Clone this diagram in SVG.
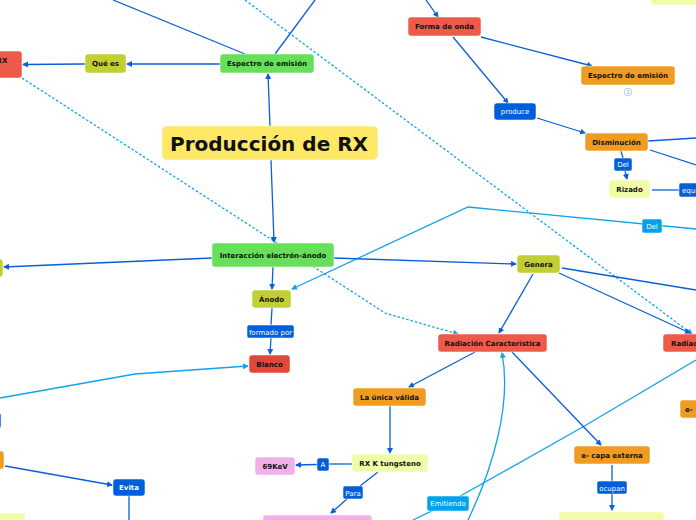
<svg xmlns="http://www.w3.org/2000/svg" width="696" height="520" viewBox="0 0 696 520">
<defs>
<marker id="a" markerWidth="6" markerHeight="6" refX="5" refY="3" orient="auto" markerUnits="userSpaceOnUse"><path d="M0,0 L6,3 L0,6 z" fill="#0A5FD8"/></marker>
<marker id="b" markerWidth="6" markerHeight="6" refX="5" refY="3" orient="auto" markerUnits="userSpaceOnUse"><path d="M0,0 L6,3 L0,6 z" fill="#12A2EA"/></marker>
<style>
text{font-family:"DejaVu Sans","Liberation Sans",sans-serif;font-size:7px;font-weight:bold;text-anchor:middle;fill:#111}
.n rect{stroke:#ffffff;stroke-opacity:0.5;stroke-width:1}
.l text{font-weight:normal;fill:#fff}
.t{font-size:20px}
.s{text-anchor:start}
.dk{fill:none;stroke:#0A5FD8;stroke-width:1.3}
.lt{fill:none;stroke:#12A2EA;stroke-width:1.3}
.ds{fill:none;stroke:#12A2EA;stroke-width:1.3;stroke-dasharray:2.5 2}
.y{fill:#FFE866}.g{fill:#66E05A}.yg{fill:#C1CF32}.r{fill:#EE5A4A}.rd{fill:#E0483A}.o{fill:#F09B22}.ly{fill:#F0FCA8}.p{fill:#F2B0E8}.bl{fill:#005EDB}.lb{fill:#00A2EA}
</style>
</defs>
<rect width="696" height="520" fill="#fff"/>
<g id="connectors">
<path class="ds" d="M22,78 L385,313 L458,334" marker-end="url(#b)"/>
<path class="ds" d="M245,0 L692,334" marker-end="url(#b)"/>
<path class="dk" d="M270,126 L268,74" marker-end="url(#a)"/>
<path class="dk" d="M271,160 L274,242" marker-end="url(#a)"/>
<path class="dk" d="M220,64 L127,64" marker-end="url(#a)"/>
<path class="dk" d="M85,64 L23,64.5" marker-end="url(#a)"/>
<path class="dk" d="M245,54 L113,0"/>
<path class="dk" d="M275,54 L315,0"/>
<path class="dk" d="M426,0 L438,17" marker-end="url(#a)"/>
<path class="dk" d="M481,37 L592,66" marker-end="url(#a)"/>
<path class="dk" d="M453,37 L508,103" marker-end="url(#a)"/>
<path class="dk" d="M537,118 L585,133" marker-end="url(#a)"/>
<path class="dk" d="M648,141 L696,138"/>
<path class="dk" d="M650,150 L696,165"/>
<path class="dk" d="M621,151 L623,158"/>
<path class="dk" d="M625,171 L627,179" marker-end="url(#a)"/>
<path class="dk" d="M652,190 L679,190"/>
<path class="lt" d="M696,229 L468,207 L292,289" marker-end="url(#b)"/>
<path class="dk" d="M212,258 L4,267" marker-end="url(#a)"/>
<path class="dk" d="M273,267 L272,289" marker-end="url(#a)"/>
<path class="dk" d="M334,258 L516,264" marker-end="url(#a)"/>
<path class="dk" d="M272,308 L271,325"/>
<path class="dk" d="M271,338 L270,354" marker-end="url(#a)"/>
<path class="dk" d="M533,274 L499,333" marker-end="url(#a)"/>
<path class="dk" d="M559,273 L690,333" marker-end="url(#a)"/>
<path class="dk" d="M562,268 L696,290"/>
<path class="lt" d="M696,360 L581,428 L448,503 L413,520"/>
<path class="lt" d="M468,520 C492,470 512,405 502,353" marker-end="url(#b)"/>
<path class="dk" d="M475,352 L409,387" marker-end="url(#a)"/>
<path class="dk" d="M512,352 L601,445" marker-end="url(#a)"/>
<path class="dk" d="M390,406 L390,453" marker-end="url(#a)"/>
<path class="dk" d="M352,464 L329,464"/>
<path class="dk" d="M317,464.5 L296,465" marker-end="url(#a)"/>
<path class="dk" d="M378,472 L360,486"/>
<path class="dk" d="M347,499 L331,513" marker-end="url(#a)"/>
<path class="dk" d="M612,465 L612,481"/>
<path class="dk" d="M612,494 L612,510" marker-end="url(#a)"/>
<path class="lt" d="M0,398 L135,374 L248,366" marker-end="url(#b)"/>
<path class="dk" d="M5,466 L112,485" marker-end="url(#a)"/>
<path class="dk" d="M129,496 L129,520"/>
</g>
<g id="n-title" class="n"><rect class="y" x="162" y="126" width="216" height="34" rx="5"/><text class="t" x="269" y="151">Producción de RX</text></g>
<g id="n-espectro1" class="n"><rect class="g" x="220" y="54" width="94" height="19" rx="3"/><text x="267" y="66">Espectro de emisión</text></g>
<g id="n-quees" class="n"><rect class="yg" x="85" y="54" width="41" height="19" rx="3"/><text x="105.5" y="66">Qué es</text></g>
<g id="n-rx" class="n"><rect class="r" x="-12" y="51" width="34" height="27" rx="3"/><text x="2" y="63">RX</text></g>
<g id="n-forma" class="n"><rect class="r" x="408" y="17" width="73" height="19" rx="3"/><text x="444.5" y="29">Forma de onda</text></g>
<g id="n-espectro2" class="n"><rect class="o" x="581" y="66" width="94" height="19" rx="3"/><text x="628" y="78">Espectro de emisión</text><circle cx="628" cy="92" r="3.8" fill="#fff" stroke="#9CC2F2" stroke-width="0.8"/><text x="628" y="94" style="font-size:5px;font-weight:normal;fill:#7FAEEA">2</text></g>
<g id="n-produce" class="n l"><rect class="bl" x="494" y="103" width="42" height="17" rx="3"/><text x="515" y="114">produce</text></g>
<g id="n-dismin" class="n"><rect class="o" x="585" y="133" width="63" height="18" rx="3"/><text x="616.5" y="145">Disminución</text></g>
<g id="n-del1" class="n l"><rect class="bl" x="614" y="158" width="18" height="13" rx="2"/><text x="623" y="167">Del</text></g>
<g id="n-rizado" class="n"><rect class="ly" x="609" y="180" width="41" height="18" rx="3"/><text x="629.5" y="192">Rizado</text></g>
<g id="n-equi" class="n l"><rect class="bl" x="679" y="183" width="30" height="14" rx="2"/><text class="s" x="682" y="193">equi</text></g>
<g id="n-del2" class="n l"><rect class="lb" x="642" y="219" width="20" height="14" rx="2"/><text x="652" y="229">Del</text></g>
<g id="n-topright" class="n"><rect class="ly" x="651" y="-10" width="60" height="15" rx="3"/></g>
<g id="n-interaccion" class="n"><rect class="g" x="212" y="243" width="122" height="24" rx="3"/><text x="273" y="258">Interacción electrón-ánodo</text></g>
<g id="n-left1" class="n"><rect class="yg" x="-20" y="259" width="23" height="18" rx="3"/></g>
<g id="n-anodo" class="n"><rect class="yg" x="252" y="290" width="39" height="18" rx="3"/><text x="271.5" y="302">Ánodo</text></g>
<g id="n-formado" class="n l"><rect class="bl" x="247" y="325" width="47" height="13" rx="2"/><text x="270.5" y="334.5">formado por</text></g>
<g id="n-blanco" class="n"><rect class="rd" x="249" y="355" width="41" height="18" rx="3"/><text x="269.5" y="367">Blanco</text></g>
<g id="n-genera" class="n"><rect class="yg" x="517" y="255" width="43" height="18" rx="3"/><text x="538.5" y="267">Genera</text></g>
<g id="n-radcar" class="n"><rect class="r" x="438" y="334" width="109" height="18" rx="3"/><text x="492.5" y="346">Radiación Característica</text></g>
<g id="n-radiac" class="n"><rect class="r" x="663" y="334" width="80" height="18" rx="3"/><text class="s" x="671" y="346">Radiación</text></g>
<g id="n-unica" class="n"><rect class="o" x="353" y="388" width="73" height="18" rx="3"/><text x="389.5" y="400">La única válida</text></g>
<g id="n-rxk" class="n"><rect class="ly" x="352" y="454" width="76" height="18" rx="3"/><text x="390" y="466">RX K tungsteno</text></g>
<g id="n-a" class="n l"><rect class="bl" x="317" y="458" width="12" height="13" rx="2"/><text x="323" y="467">A</text></g>
<g id="n-69" class="n"><rect class="p" x="255" y="457" width="40" height="18" rx="3"/><text x="275" y="469">69KeV</text></g>
<g id="n-para" class="n l"><rect class="bl" x="343" y="486" width="20" height="13" rx="2"/><text x="353" y="495.5">Para</text></g>
<g id="n-pink" class="n"><rect class="p" x="263" y="515" width="109" height="18" rx="3"/></g>
<g id="n-capa" class="n"><rect class="o" x="574" y="446" width="76" height="18" rx="3"/><text x="612" y="458">e- capa externa</text></g>
<g id="n-ocupan" class="n l"><rect class="bl" x="597" y="481" width="30" height="13" rx="2"/><text x="612" y="490.5">ocupan</text></g>
<g id="n-huecos" class="n"><rect class="ly" x="559" y="512" width="105" height="18" rx="3"/></g>
<g id="n-emitiendo" class="n l"><rect class="lb" x="427" y="496" width="42" height="15" rx="2"/><text x="448" y="506">Emitiendo</text></g>
<g id="n-eright" class="n"><rect class="o" x="680" y="400" width="40" height="18" rx="3"/><text class="s" x="685" y="412">e-</text></g>
<g id="n-evita" class="n l"><rect class="bl" x="113" y="479" width="32" height="17" rx="3"/><text x="129" y="490" style="font-weight:bold">Evita</text></g>
<g id="n-leftorange" class="n"><rect class="o" x="-30" y="451" width="34" height="18" rx="3"/></g>
<g id="n-leftblue" class="n l"><rect class="bl" x="-20" y="413" width="21" height="15" rx="2"/></g>
<g id="n-leftyellow" class="n"><rect class="ly" x="-20" y="513" width="45" height="18" rx="3"/></g>
</svg>
